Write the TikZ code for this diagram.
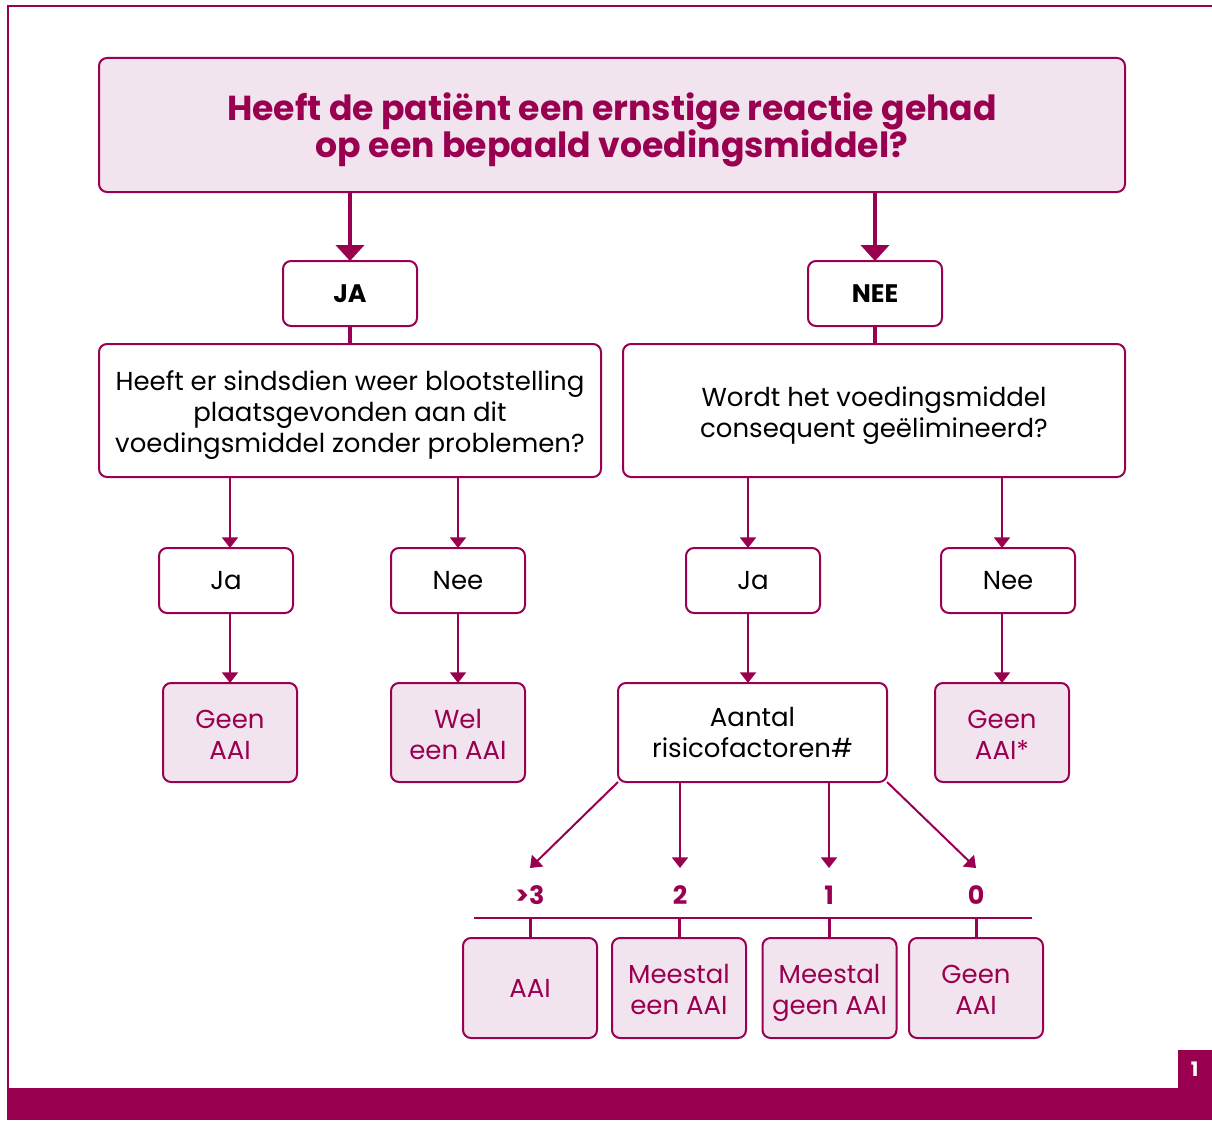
\documentclass[tikz,border=0pt]{standalone}
\usepackage{fontspec}
\setmainfont{Poppins}
\usetikzlibrary{arrows.meta}
\definecolor{wine}{HTML}{990050}
\definecolor{blush}{HTML}{F2E4EE}
\newcommand{\hoogte}{\rule{0pt}{17pt}}

\tikzset{
  vak/.style={draw=wine, line width=1.5pt, rounded corners=6pt, align=center,
    inner sep=0pt, outer sep=0pt, minimum width=100.5pt, minimum height=48.75pt,
    font=\fontsize{19.5}{23.25}\selectfont},
  regels/.style={text depth=0pt},
  uitkomst/.style={vak, regels, fill=blush, text=wine, minimum height=74.25pt},
  vraag/.style={vak, regels, minimum width=376.5pt, minimum height=99.75pt},
  getal/.style={text=wine, inner sep=0pt, outer sep=0pt, minimum height=40.5pt,
    font=\bfseries\fontsize{19}{20}\selectfont},
  pijl/.style={draw=wine, line width=1.5pt, -{Triangle[width=12pt,length=8pt]}},
  dikpijl/.style={draw=wine, line width=3pt, -{Triangle[width=21pt,length=12pt]}},
}

\begin{document}
\begin{tikzpicture}[x=0.75pt, y=-0.75pt]
  \useasboundingbox (0,0) rectangle (1212,1120);
  \draw[wine, line width=1.5pt] (1212,6) -- (8,6) -- (8,1088);
  \fill[wine] (7,1088) rectangle (1212,1120);
  \node[fill=wine, text=white, inner sep=0pt, minimum width=25.5pt, minimum height=28.5pt,
    anchor=north east, font=\bfseries\fontsize{15}{16}\selectfont] (pagina) at (1212,1050) {1};

  \node[vak, regels, fill=blush, text=wine, minimum width=769.5pt, minimum height=100.5pt,
    font=\bfseries\fontsize{26}{28}\selectfont] (titel) at (612,125)
    {Heeft de patiënt een ernstige reactie gehad\\op een bepaald voedingsmiddel?};

  \node[vak, font=\bfseries\fontsize{19}{20}\selectfont] (ja) at (350,293.5) {JA};
  \node[vak, font=\bfseries\fontsize{19}{20}\selectfont] (nee) at (875,293.5) {NEE};
  \draw[dikpijl] (titel.south -| ja) -- (ja);
  \draw[dikpijl] (titel.south -| nee) -- (nee);

  \node[vraag] (vraagL) at (350,410.5)
    {\hoogte Heeft er sindsdien weer blootstelling\\plaatsgevonden aan dit\\voedingsmiddel zonder problemen?};
  \node[vraag] (vraagR) at (874,410.5)
    {\hoogte Wordt het voedingsmiddel\\consequent geëlimineerd?};
  \draw[wine, line width=3pt] (ja) -- (ja |- vraagL.north);
  \draw[wine, line width=3pt] (nee) -- (nee |- vraagR.north);

  \node[vak] (jaL) at (226,580.5) {Ja};
  \node[vak] (neeL) at (458,580.5) {Nee};
  \node[vak] (jaR) at (753,580.5) {Ja};
  \node[vak] (neeR) at (1008,580.5) {Nee};

  \node[uitkomst] (geenL) at (230,732.5) {\hoogte Geen\\AAI};
  \node[uitkomst] (wel) at (458,732.5) {\hoogte Wel\\een AAI};
  \node[vak, minimum width=201.75pt, minimum height=74.25pt] (aantal) at (752.5,732.5)
    {Aantal\\risicofactoren\#};
  \node[uitkomst] (geenR) at (1002,732.5) {\hoogte Geen\\AAI*};

  \draw[pijl] (vraagL.south -| geenL) -- (jaL.north -| geenL);
  \draw[pijl] (vraagL.south -| neeL) -- (neeL);
  \draw[pijl] (vraagR.south -| 748,0) -- (jaR.north -| 748,0);
  \draw[pijl] (vraagR.south -| geenR) -- (neeR.north -| geenR);
  \draw[pijl] (jaL.south -| geenL) -- (geenL);
  \draw[pijl] (neeL) -- (wel);
  \draw[pijl] (jaR.south -| 748,0) -- (aantal.north -| 748,0);
  \draw[pijl] (neeR.south -| geenR) -- (geenR);

  \node[getal] (n3) at (530,895) {>3};
  \node[getal] (n2) at (680,895) {2};
  \node[getal] (n1) at (829,895) {1};
  \node[getal] (n0) at (976,895) {0};
  \draw[pijl] (aantal.south west) -- (n3.north);
  \draw[pijl] (aantal.south -| n2) -- (n2);
  \draw[pijl] (aantal.south -| n1) -- (n1);
  \draw[pijl] (aantal.south east) -- (n0.north);

  \coordinate (balkL) at (474,918);
  \coordinate (balkR) at (1032,918);
  \draw[wine, line width=1.5pt] (balkL) -- (balkR);

  \node[uitkomst, minimum height=75pt] (b3) at (530,988) {AAI};
  \node[uitkomst, minimum height=75pt] (b2) at (679,988) {\hoogte Meestal\\een AAI};
  \node[uitkomst, minimum height=75pt] (b1) at (829.5,988) {\hoogte Meestal\\geen AAI};
  \node[uitkomst, minimum height=75pt] (b0) at (976,988) {\hoogte Geen\\AAI};
  \foreach \b in {b3,b2,b1,b0}
    \draw[wine, line width=2.25pt] (\b.north) -- (\b.north |- balkL);
\end{tikzpicture}
\end{document}
